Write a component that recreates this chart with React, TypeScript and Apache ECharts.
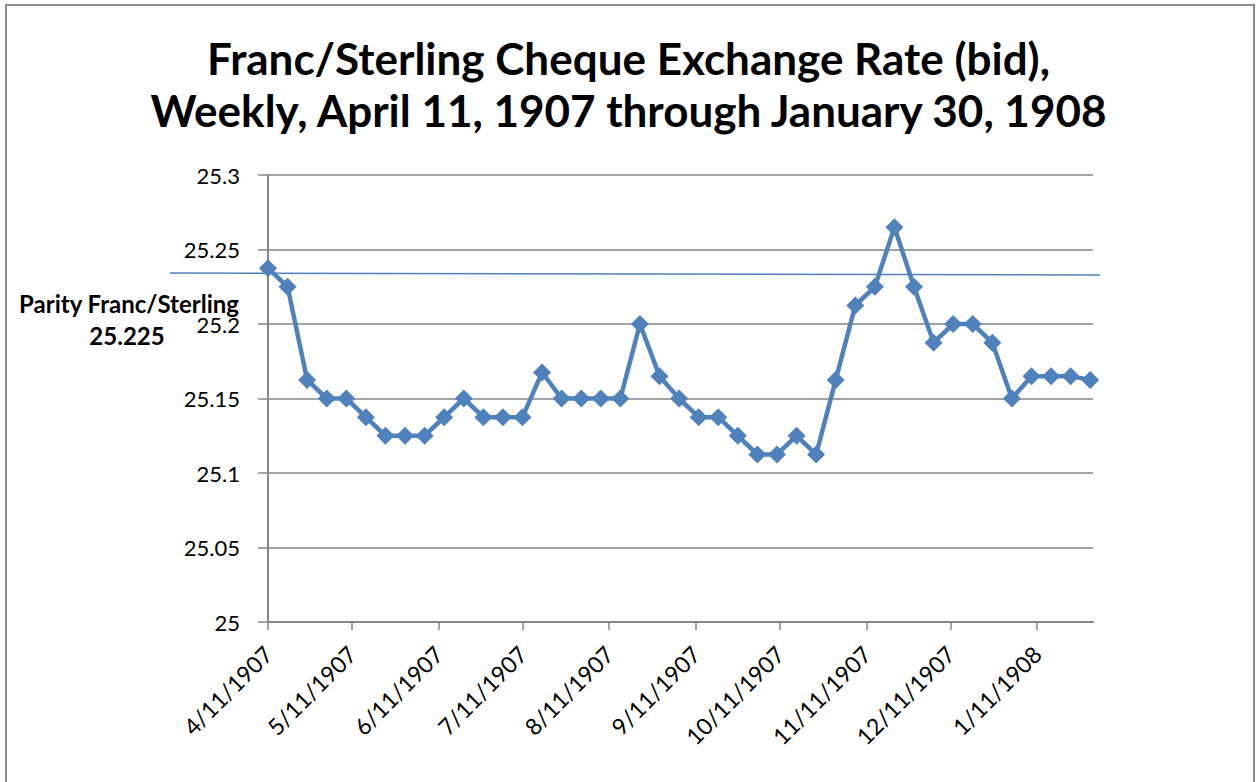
import React, { useEffect, useRef } from "react";
import * as echarts from "echarts";

const dates = [
  "1907-04-11", "1907-04-18", "1907-04-25",
  "1907-05-02", "1907-05-09", "1907-05-16", "1907-05-23", "1907-05-30",
  "1907-06-06", "1907-06-13", "1907-06-20", "1907-06-27",
  "1907-07-04", "1907-07-11", "1907-07-18", "1907-07-25",
  "1907-08-01", "1907-08-08", "1907-08-15", "1907-08-22", "1907-08-29",
  "1907-09-05", "1907-09-12", "1907-09-19", "1907-09-26",
  "1907-10-03", "1907-10-10", "1907-10-17", "1907-10-24", "1907-10-31",
  "1907-11-07", "1907-11-14", "1907-11-21", "1907-11-28",
  "1907-12-05", "1907-12-12", "1907-12-19", "1907-12-26",
  "1908-01-02", "1908-01-09", "1908-01-16", "1908-01-23", "1908-01-30",
];

const rates = [
  25.2375, 25.225, 25.1625,
  25.15, 25.15, 25.1375, 25.125, 25.125,
  25.125, 25.1375, 25.15, 25.1375,
  25.1375, 25.1375, 25.1675, 25.15,
  25.15, 25.15, 25.15, 25.2, 25.165,
  25.15, 25.1375, 25.1375, 25.125,
  25.1125, 25.1125, 25.125, 25.1125, 25.1625,
  25.2125, 25.225, 25.265, 25.225,
  25.1875, 25.2, 25.2, 25.1875,
  25.15, 25.165, 25.165, 25.165, 25.1625,
];

const tickDates = [
  "1907-04-11", "1907-05-11", "1907-06-11", "1907-07-11", "1907-08-11",
  "1907-09-11", "1907-10-11", "1907-11-11", "1907-12-11", "1908-01-11",
];

const axisStart = "1907-04-11";
const axisEnd = "1908-01-31";

const titleLines = [
  "Franc/Sterling Cheque Exchange Rate (bid),",
  "Weekly, April 11, 1907 through January 30, 1908",
];
const parityLabel = ["Parity Franc/Sterling", "25.225"];

const DAY = 86400000;

function toUtc(s: string): number {
  const [y, m, d] = s.split("-").map(Number);
  return Date.UTC(y, m - 1, d);
}

const base = toUtc(axisStart);
function toDay(s: string): number {
  return Math.round((toUtc(s) - base) / DAY);
}

function fmtDay(v: number): string {
  const d = new Date(base + Math.round(v) * DAY);
  return `${d.getUTCMonth() + 1}/${d.getUTCDate()}/${d.getUTCFullYear()}`;
}

export default function App() {
  const ref = useRef<HTMLDivElement>(null);
  useEffect(() => {
    document.body.style.margin = "0";
    if (!ref.current) return;
    const chart = echarts.init(ref.current, null, { renderer: "svg" });
    const font = "Lato, 'Noto Sans', sans-serif";
    const gray = "#868686";
    const blue = "#4F81BD";
    const ticks = tickDates.map(toDay);
    chart.setOption({
      animation: false,
      backgroundColor: "#fff",
      title: {
        text: titleLines.join("\n"),
        left: "center",
        top: 27,
        textStyle: {
          fontFamily: font,
          fontWeight: "bold",
          fontSize: 44,
          lineHeight: 52,
          color: "#000",
        },
      },
      grid: { left: 268, top: 175, right: 164, bottom: 160, containLabel: false },
      xAxis: {
        type: "value",
        min: 0,
        max: toDay(axisEnd),
        splitLine: { show: false },
        axisLine: { show: true, lineStyle: { color: gray, width: 2 } },
        axisTick: {
          show: true,
          customValues: ticks,
          length: 8,
          lineStyle: { color: gray, width: 1.5 },
        },
        axisLabel: {
          customValues: ticks,
          rotate: 45,
          formatter: (v: number) => fmtDay(v),
          fontFamily: font,
          fontSize: 23,
          color: "#000",
          margin: 28,
          hideOverlap: false,
        },
      },
      yAxis: {
        type: "value",
        min: 25,
        max: 25.3,
        interval: 0.05,
        axisLine: { show: true, lineStyle: { color: gray, width: 2 } },
        axisTick: { show: true, length: 10, lineStyle: { color: gray, width: 1.5 } },
        axisLabel: {
          fontFamily: font,
          fontSize: 22,
          color: "#000",
          margin: 28,
          formatter: (v: number) => String(Math.round(v * 100) / 100),
        },
        splitLine: { show: true, lineStyle: { color: gray, width: 1.5 } },
      },
      series: [
        {
          type: "line",
          data: dates.map((d, i) => [toDay(d), rates[i]]),
          symbol: "diamond",
          symbolSize: 18,
          lineStyle: { color: blue, width: 4.5 },
          itemStyle: { color: blue },
          z: 3,
        },
      ],
      graphic: [
        {
          type: "rect",
          shape: { x: 6, y: 5, width: 1248, height: 800 },
          style: { fill: "none", stroke: "#8c8c8c", lineWidth: 2 },
          z: 10,
        },
        {
          type: "line",
          shape: { x1: 170, y1: 273, x2: 1100, y2: 275 },
          style: { stroke: blue, lineWidth: 1.5 },
          z: 10,
        },
        {
          type: "text",
          x: 129,
          y: 303,
          style: {
            text: parityLabel[0],
            font: `bold 24px ${font}`,
            fill: "#000",
            align: "center",
            verticalAlign: "middle",
          },
          z: 10,
        },
        {
          type: "text",
          x: 127,
          y: 335,
          style: {
            text: parityLabel[1],
            font: `bold 24px ${font}`,
            fill: "#000",
            align: "center",
            verticalAlign: "middle",
          },
          z: 10,
        },
      ],
    });
    return () => chart.dispose();
  }, []);
  return <div ref={ref} style={{ width: 1257, height: 782 }} />;
}
